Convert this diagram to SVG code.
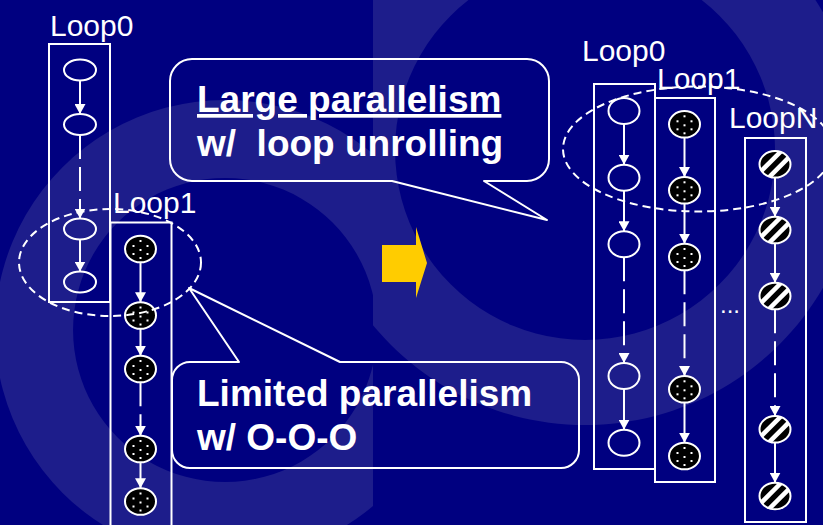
<svg xmlns="http://www.w3.org/2000/svg" xmlns:xlink="http://www.w3.org/1999/xlink" width="823" height="525" viewBox="0 0 823 525">
<style>
.box{fill:none;stroke:#fff;stroke-width:2}
.lbl{font-family:"Liberation Sans",Arial,sans-serif;font-size:30px;fill:#fff}
.big{font-family:"Liberation Sans",Arial,sans-serif;font-size:37px;font-weight:bold;fill:#fff;white-space:pre}
.oval{fill:none;stroke:#fff;stroke-width:2}
.c{fill:none;stroke:#fff;stroke-width:2;marker-end:url(#ah)}
.d{stroke-dasharray:24 8}
.grp{fill:none;stroke:#fff;stroke-width:2;stroke-dasharray:8 5}
.call{fill:none;stroke:#fff;stroke-width:2;stroke-linejoin:round}
.bg{fill:#1d1d8b}
</style>
<defs>
<marker id="ah" viewBox="0 0 10 11" refX="10" refY="5.5" markerWidth="10" markerHeight="11" markerUnits="userSpaceOnUse" orient="auto"><path d="M0,0 L10,5.5 L0,11 z" fill="#fff"/></marker>
<clipPath id="leftHalf"><rect x="0" y="0" width="373" height="525"/></clipPath>
<clipPath id="rightHalf"><rect x="373" y="0" width="450" height="525"/></clipPath>
<clipPath id="elc"><ellipse cx="0" cy="0" rx="15.5" ry="13.3"/></clipPath>
<g id="dotNode">
<ellipse cx="0" cy="0" rx="15.5" ry="13.3" fill="#000" stroke="#fff" stroke-width="2"/>
<g fill="#fff"><rect x="-1" y="-9" width="2" height="2"/><rect x="-8" y="-4" width="2" height="2"/><rect x="6" y="-4" width="2" height="2"/><rect x="-1" y="0" width="2" height="2"/><rect x="-8" y="4" width="2" height="2"/><rect x="6" y="4" width="2" height="2"/><rect x="-1" y="8" width="2" height="2"/></g>
</g>
<g id="stripeNode">
<ellipse cx="0" cy="0" rx="15.5" ry="13.3" fill="#000"/>
<g clip-path="url(#elc)" stroke="#fff" stroke-width="4.5"><line x1="-20" y1="13" x2="20" y2="-27"/><line x1="-20" y1="27" x2="20" y2="-13"/></g>
<ellipse cx="0" cy="0" rx="15.5" ry="13.3" fill="none" stroke="#fff" stroke-width="2"/>
</g>
</defs>
<rect width="823" height="525" fill="#000080"/>
<g id="background">
<path class="bg" clip-path="url(#leftHalf)" fill-rule="evenodd" d="M225,100 A230,230 0 1 1 224.9,100 Z M225,178 A152,152 0 1 0 225.1,178 Z"/>
<path class="bg" clip-path="url(#rightHalf)" fill-rule="evenodd" d="M585,-125 A275,275 0 1 1 584.9,-125 Z M585,-40 A190,190 0 1 0 585.1,-40 Z"/>
</g>
<g id="loop0-left"><rect class="box" x="49" y="44" width="61" height="258"/><text class="lbl" x="50" y="36">Loop0</text></g>
<g id="loop1-left"><rect class="box" x="110.5" y="222.5" width="61" height="320"/><text class="lbl" x="113" y="213">Loop1</text></g>
<g id="loop0-right"><rect class="box" x="594" y="84" width="61" height="385"/><text class="lbl" x="582" y="61">Loop0</text></g>
<g id="loop1-right"><rect class="box" x="655" y="98" width="60" height="384"/><text class="lbl" x="657" y="89">Loop1</text></g>
<g id="loopN-right"><rect class="box" x="745" y="138" width="61" height="384"/><text class="lbl" x="729" y="128">LoopN</text></g>
<g id="connectors">
<path class="c" d="M80,80.5 V114"/>
<path class="c d" d="M80,135 V218.5"/>
<path class="c" d="M80,239.5 V271.5"/>
<path class="c" d="M140.5,262.3 V302.2"/>
<path class="c" d="M140.5,328.8 V355.7"/>
<path class="c d" d="M140.5,382.3 V435.7"/>
<path class="c" d="M140.5,462.3 V488.2"/>
<path class="c" d="M624,124 V164.7"/>
<path class="c" d="M624,190.7 V231.3"/>
<path class="c d" d="M624,257.3 V363"/>
<path class="c" d="M624,389 V429.7"/>
<path class="c" d="M684.5,137.6 V177"/>
<path class="c" d="M684.5,203.6 V243.7"/>
<path class="c d" d="M684.5,270.3 V376"/>
<path class="c" d="M684.5,402.6 V442.7"/>
<path class="c" d="M775,177.6 V216.7"/>
<path class="c" d="M775,243.3 V282.7"/>
<path class="c d" d="M775,309.3 V416"/>
<path class="c" d="M775,442.6 V482.7"/>
</g>
<g id="l0-n1"><ellipse class="oval" cx="80" cy="70" rx="16" ry="10.5"/></g>
<g id="l0-n2"><ellipse class="oval" cx="80" cy="124.5" rx="16" ry="10.5"/></g>
<g id="l0-n3"><ellipse class="oval" cx="80" cy="229" rx="16" ry="10.5"/></g>
<g id="l0-n4"><ellipse class="oval" cx="80" cy="282" rx="16" ry="10.5"/></g>
<g id="l1-n1"><use href="#dotNode" x="140.5" y="249"/></g>
<g id="l1-n2"><use href="#dotNode" x="140.5" y="315.5"/></g>
<g id="l1-n3"><use href="#dotNode" x="140.5" y="369"/></g>
<g id="l1-n4"><use href="#dotNode" x="140.5" y="449"/></g>
<g id="l1-n5"><use href="#dotNode" x="140.5" y="501.5"/></g>
<g id="r0-n1"><ellipse class="oval" cx="624" cy="111" rx="15.5" ry="13"/></g>
<g id="r0-n2"><ellipse class="oval" cx="624" cy="177.7" rx="15.5" ry="13"/></g>
<g id="r0-n3"><ellipse class="oval" cx="624" cy="244.3" rx="15.5" ry="13"/></g>
<g id="r0-n4"><ellipse class="oval" cx="624" cy="376" rx="15.5" ry="13"/></g>
<g id="r0-n5"><ellipse class="oval" cx="624" cy="442.7" rx="15.5" ry="13"/></g>
<g id="r1-n1"><use href="#dotNode" x="684.5" y="124.3"/></g>
<g id="r1-n2"><use href="#dotNode" x="684.5" y="190.3"/></g>
<g id="r1-n3"><use href="#dotNode" x="684.5" y="257"/></g>
<g id="r1-n4"><use href="#dotNode" x="684.5" y="389.3"/></g>
<g id="r1-n5"><use href="#dotNode" x="684.5" y="456"/></g>
<g id="rN-n1"><use href="#stripeNode" x="775" y="164.3"/></g>
<g id="rN-n2"><use href="#stripeNode" x="775" y="230"/></g>
<g id="rN-n3"><use href="#stripeNode" x="775" y="296"/></g>
<g id="rN-n4"><use href="#stripeNode" x="775" y="429.3"/></g>
<g id="rN-n5"><use href="#stripeNode" x="775" y="496"/></g>
<g id="ellipsis"><text class="lbl" x="720" y="313" style="font-size:24px">...</text></g>
<g id="group-left"><ellipse class="grp" cx="110" cy="262.5" rx="91" ry="53.5"/></g>
<g id="group-right"><ellipse class="grp" cx="698" cy="149" rx="135" ry="62.5"/></g>
<g id="arrow"><polygon points="382,245 416,245 416,227 427,263 416,298 416,282 382,282" fill="#ffcc00"/></g>
<g id="callout-large">
<path class="call" d="M192,59 H527 A22,22 0 0 1 549,81 V159 A22,22 0 0 1 527,181 H484 L547,220 L392,181 H192 A22,22 0 0 1 170,159 V81 A22,22 0 0 1 192,59 Z"/>
<text class="big" x="197" y="112" text-decoration="underline">Large parallelism</text>
<text class="big" x="197" y="156">w/  loop unrolling</text>
</g>
<g id="callout-limited">
<path class="call" d="M190,362 H239 L189,288 L340,362 H561 A18,18 0 0 1 579,380 V450 A18,18 0 0 1 561,468 H190 A18,18 0 0 1 172,450 V380 A18,18 0 0 1 190,362 Z"/>
<text class="big" x="197" y="406">Limited parallelism</text>
<text class="big" x="197" y="450">w/ O-O-O</text>
</g>
</svg>
